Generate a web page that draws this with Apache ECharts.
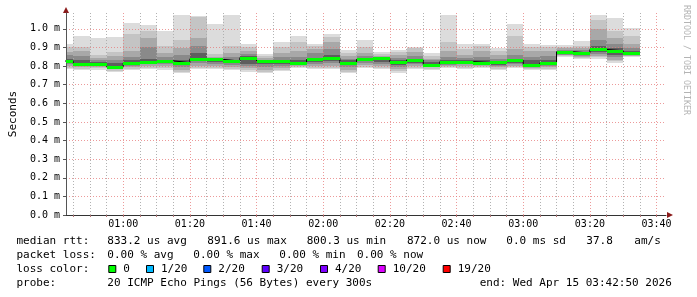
<!DOCTYPE html>
<html><head><meta charset="utf-8">
<script src="https://cdn.jsdelivr.net/npm/echarts@6/dist/echarts.min.js"></script>
<style>html,body{margin:0;padding:0;background:#fff}#c{width:697px;height:297px}</style>
</head><body><div id="c"></div>
<script>
// ---- data (5-minute slots, values in ms) ----
const slotStart = ["00:40","00:45","00:50","00:55","01:00","01:05","01:10","01:15","01:20","01:25","01:30","01:35","01:40","01:45","01:50","01:55","02:00","02:05","02:10","02:15","02:20","02:25","02:30","02:35","02:40","02:45","02:50","02:55","03:00","03:05","03:10","03:15","03:20","03:25","03:30"];
const medianMs = [0.827,0.813,0.811,0.797,0.817,0.820,0.828,0.818,0.839,0.836,0.827,0.845,0.827,0.829,0.816,0.836,0.844,0.816,0.836,0.842,0.822,0.833,0.807,0.824,0.824,0.819,0.824,0.830,0.804,0.817,0.877,0.870,0.889,0.882,0.870];
const minMs = [0.786,0.777,0.780,0.768,0.777,0.785,0.780,0.762,0.785,0.785,0.780,0.770,0.762,0.773,0.790,0.785,0.785,0.762,0.790,0.785,0.765,0.785,0.780,0.790,0.785,0.790,0.780,0.790,0.780,0.780,0.848,0.840,0.840,0.816,0.848];
const maxMs = [0.920,0.960,0.949,0.956,1.030,1.020,0.988,1.074,1.070,1.024,1.074,0.917,0.863,0.927,0.960,0.917,0.970,0.884,0.938,0.874,0.888,0.900,0.870,1.074,0.920,0.917,0.895,1.024,0.917,0.911,0.915,0.934,1.072,1.056,1.006];
const band2Lo = [0.790,0.785,0.787,0.775,0.785,0.790,0.790,0.770,0.790,0.790,0.785,0.780,0.770,0.780,0.795,0.790,0.790,0.770,0.795,0.790,0.775,0.790,0.785,0.795,0.790,0.795,0.785,0.795,0.785,0.785,0.852,0.845,0.848,0.825,0.852];
const band2Hi = [0.900,0.900,0.860,0.875,0.970,0.990,0.910,0.940,1.065,0.865,0.910,0.905,0.855,0.900,0.930,0.910,0.955,0.870,0.900,0.865,0.875,0.895,0.855,0.930,0.890,0.910,0.880,0.960,0.905,0.900,0.905,0.910,1.050,0.990,0.960];
const band3Lo = [0.800,0.795,0.795,0.785,0.795,0.800,0.800,0.780,0.800,0.800,0.795,0.790,0.780,0.790,0.800,0.800,0.800,0.780,0.805,0.800,0.785,0.800,0.795,0.800,0.800,0.800,0.795,0.800,0.790,0.795,0.858,0.850,0.855,0.835,0.856];
const band3Hi = [0.875,0.880,0.845,0.855,0.880,0.950,0.870,0.895,0.950,0.850,0.870,0.880,0.845,0.870,0.880,0.890,0.930,0.855,0.870,0.855,0.860,0.875,0.840,0.880,0.860,0.880,0.860,0.890,0.880,0.880,0.895,0.895,1.000,0.950,0.920];
const band4Lo = [0.810,0.800,0.800,0.790,0.800,0.810,0.810,0.795,0.815,0.810,0.805,0.800,0.795,0.800,0.805,0.810,0.815,0.795,0.815,0.810,0.795,0.810,0.800,0.805,0.810,0.805,0.800,0.810,0.795,0.800,0.862,0.855,0.865,0.850,0.860];
const band4Hi = [0.860,0.855,0.830,0.835,0.850,0.900,0.850,0.860,0.910,0.840,0.850,0.865,0.835,0.850,0.850,0.870,0.890,0.840,0.855,0.850,0.845,0.855,0.830,0.850,0.845,0.850,0.840,0.860,0.850,0.855,0.885,0.885,0.940,0.920,0.895];
const band5Lo = [0.815,0.805,0.805,0.793,0.805,0.815,0.815,0.805,0.825,0.820,0.815,0.810,0.810,0.810,0.808,0.820,0.825,0.805,0.825,0.820,0.805,0.815,0.803,0.810,0.815,0.810,0.805,0.815,0.800,0.805,0.866,0.860,0.875,0.860,0.865];
const band5Hi = [0.840,0.830,0.820,0.815,0.830,0.840,0.835,0.835,0.870,0.840,0.835,0.855,0.830,0.835,0.830,0.845,0.860,0.830,0.845,0.845,0.830,0.840,0.820,0.830,0.835,0.830,0.825,0.840,0.830,0.830,0.880,0.875,0.910,0.895,0.880];
const xTickLabels = ["01:00","01:20","01:40","02:00","02:20","02:40","03:00","03:20","03:40"];
const yTickLabels = ["0.0 m","0.1 m","0.2 m","0.3 m","0.4 m","0.5 m","0.6 m","0.7 m","0.8 m","0.9 m","1.0 m"];
const axisStart = "00:42:50", axisEnd = "03:42:50";
const lossLabels = ["0","1/20","2/20","3/20","4/20","10/20","19/20"];
const lossColors = ["#00ff00","#00b8ff","#0059ff","#5e00ff","#7e00ff","#dd00ff","#ff0000"];

// ---- helpers ----
function toMin(s){const p=s.split(':').map(Number);return p[0]*60+p[1]+(p[2]||0)/60;}
function fmt(m){const h=Math.floor(m/60),mm=Math.round(m-h*60);return String(h).padStart(2,'0')+':'+String(mm).padStart(2,'0');}
const SLOT=5;
const xMin=toMin(axisStart), xMax=toMin(axisEnd);
const starts=slotStart.map(toMin);
const majors=xTickLabels.map(toMin);
const minors=[];
for(let t=Math.ceil(xMin/SLOT)*SLOT;t<=xMax;t+=SLOT){ if(majors.indexOf(t)<0) minors.push(t); }
const allTicks=minors.concat(majors).sort((a,b)=>a-b);
const yVals=yTickLabels.map(s=>parseFloat(s));

const smokeColors=['#dcdcdc','#c4c4c4','#a8a8a8','#8a8a8a','#5e5e5e'];
const bands=[[minMs,maxMs],[band2Lo,band2Hi],[band3Lo,band3Hi],[band4Lo,band4Hi],[band5Lo,band5Hi]];

function clipRect(r, cs){
  return echarts.graphic.clipRectByRect(r,{x:cs.x,y:cs.y,width:cs.width,height:cs.height});
}
function bandSeries(lo,hi,color,z){
  return {
    type:'custom', z:z, silent:true,
    data: starts.map((s,i)=>[s,s+SLOT,lo[i],hi[i]]),
    encode:{x:[0,1],y:[2,3]},
    renderItem:function(params,api){
      const a=api.coord([api.value(0),api.value(3)]);
      const b=api.coord([api.value(1),api.value(2)]);
      const r=clipRect({x:Math.round(a[0]),y:Math.round(a[1]),width:Math.round(b[0])-Math.round(a[0]),height:Math.round(b[1])-Math.round(a[1])},params.coordSys);
      return r && {type:'rect',shape:r,style:{fill:color}};
    }
  };
}
const series=bands.map((b,k)=>bandSeries(b[0],b[1],smokeColors[k],2+k));

const MAJOR={color:'rgba(230,120,120,0.75)',width:1,type:[1,2]};
const MINOR={color:'rgba(170,170,170,0.9)',width:1,type:[1,2]};
// black step line connecting medians, with grid lines as mark lines
const stepData=starts.map((s,i)=>[s,medianMs[i]]);
stepData.push([starts[starts.length-1]+SLOT,medianMs[medianMs.length-1]]);
series.push({type:'line',step:'end',data:stepData,symbol:'none',z:12,silent:true,
  lineStyle:{color:'#000',width:1},
  markLine:{silent:true,symbol:'none',label:{show:false},z:10,animation:false,
    data:[].concat(
      minors.map(v=>({xAxis:v,lineStyle:MINOR})),
      majors.map(v=>({xAxis:v,lineStyle:MAJOR})),
      yVals.filter(v=>v>0).map(v=>({yAxis:v,lineStyle:MAJOR}))
    )}
});
// green median
series.push({type:'custom',z:20,silent:true,
  data:starts.map((s,i)=>[s,s+SLOT,medianMs[i]]),
  encode:{x:[0,1],y:2},
  renderItem:function(params,api){
    const a=api.coord([api.value(0),api.value(2)]);
    const b=api.coord([api.value(1),api.value(2)]);
    const r=clipRect({x:Math.round(a[0]),y:Math.round(a[1])-1,width:Math.round(b[0])-Math.round(a[0]),height:3},params.coordSys);
    return r && {type:'rect',shape:r,style:{fill:lossColors[0]}};
  }
});

// legend text (graphic)
const MONO="'DejaVu Sans Mono', monospace";
const g=[];
function txt(x,y,t,extra){g.push(Object.assign({type:'text',x:x,y:y,silent:true,style:{text:t,font:'11px '+MONO,fill:'#000',align:'left',verticalAlign:'middle'}},extra||{}));}
const rows=[
  [241.5,[[16.5,'median rtt:'],[107.3,'833.2 us avg'],[207.3,'891.6 us max'],[306.7,'800.3 us min'],[407,'872.0 us now'],[506.3,'0.0 ms sd'],[586.3,'37.8'],[634.3,'am/s']]],
  [255,[[16.5,'packet loss:'],[107.3,'0.00 % avg'],[193.3,'0.00 % max'],[279.3,'0.00 % min'],[357,'0.00 % now']]],
  [269.3,[[16.5,'loss color:']]],
  [282.7,[[16.5,'probe:'],[107.3,'20 ICMP Echo Pings (56 Bytes) every 300s'],[479.7,'end: Wed Apr 15 03:42:50 2026']]]
];
rows.forEach(r=>r[1].forEach(p=>txt(p[0],r[0],p[1])));
const boxX=[108.3,146,203.3,261.7,320,377.7,442.7];
lossLabels.forEach((l,i)=>{
  g.push({type:'rect',silent:true,shape:{x:boxX[i]+0.5,y:265.5,width:7,height:7},style:{fill:lossColors[i],stroke:'#000',lineWidth:1}});
  txt(boxX[i]+15,269.3,l);
});
// watermark
g.push({type:'text',x:686,y:5,rotation:-Math.PI/2,silent:true,style:{text:'RRDTOOL / TOBI OETIKER',font:'8.3px '+MONO,fill:'#b4b4b4',align:'left',verticalAlign:'middle'}});
// axis arrows
g.push({type:'polygon',silent:true,shape:{points:[[63,13],[69,13],[66,7]]},style:{fill:'#8b1a1a'}});
g.push({type:'polygon',silent:true,shape:{points:[[667,212],[667,218],[673,215]]},style:{fill:'#8b1a1a'}});

const chart=echarts.init(document.getElementById('c'),null,{renderer:'canvas'});
chart.setOption({
  animation:false,
  backgroundColor:'#ffffff',
  grid:{left:66,right:31,top:13,bottom:82},
  xAxis:{type:'value',min:xMin,max:xMax,z:10,
    axisLine:{show:true,lineStyle:{color:'#333',width:1}},
    axisTick:{show:true,customValues:allTicks,length:2,lineStyle:{color:'#b07070'}},
    axisLabel:{customValues:majors,formatter:v=>fmt(v),color:'#000',fontFamily:'DejaVu Sans Mono',fontSize:10,margin:4},
    splitLine:{show:false}},
  yAxis:{type:'value',min:0,max:1.085,z:10,
    name:'Seconds',nameLocation:'middle',nameRotate:90,nameGap:47,
    nameTextStyle:{color:'#000',fontFamily:'DejaVu Sans Mono',fontSize:11},
    axisLine:{show:true,lineStyle:{color:'#555',width:1}},
    axisTick:{show:true,customValues:yVals,length:3,lineStyle:{color:'#555'}},
    axisLabel:{customValues:yVals,formatter:v=>yTickLabels[yVals.indexOf(v)]||(v.toFixed(1)+' m'),color:'#000',fontFamily:'DejaVu Sans Mono',fontSize:10,margin:6},
    splitLine:{show:false}},
  series:series,
  graphic:g
});
</script></body></html>
